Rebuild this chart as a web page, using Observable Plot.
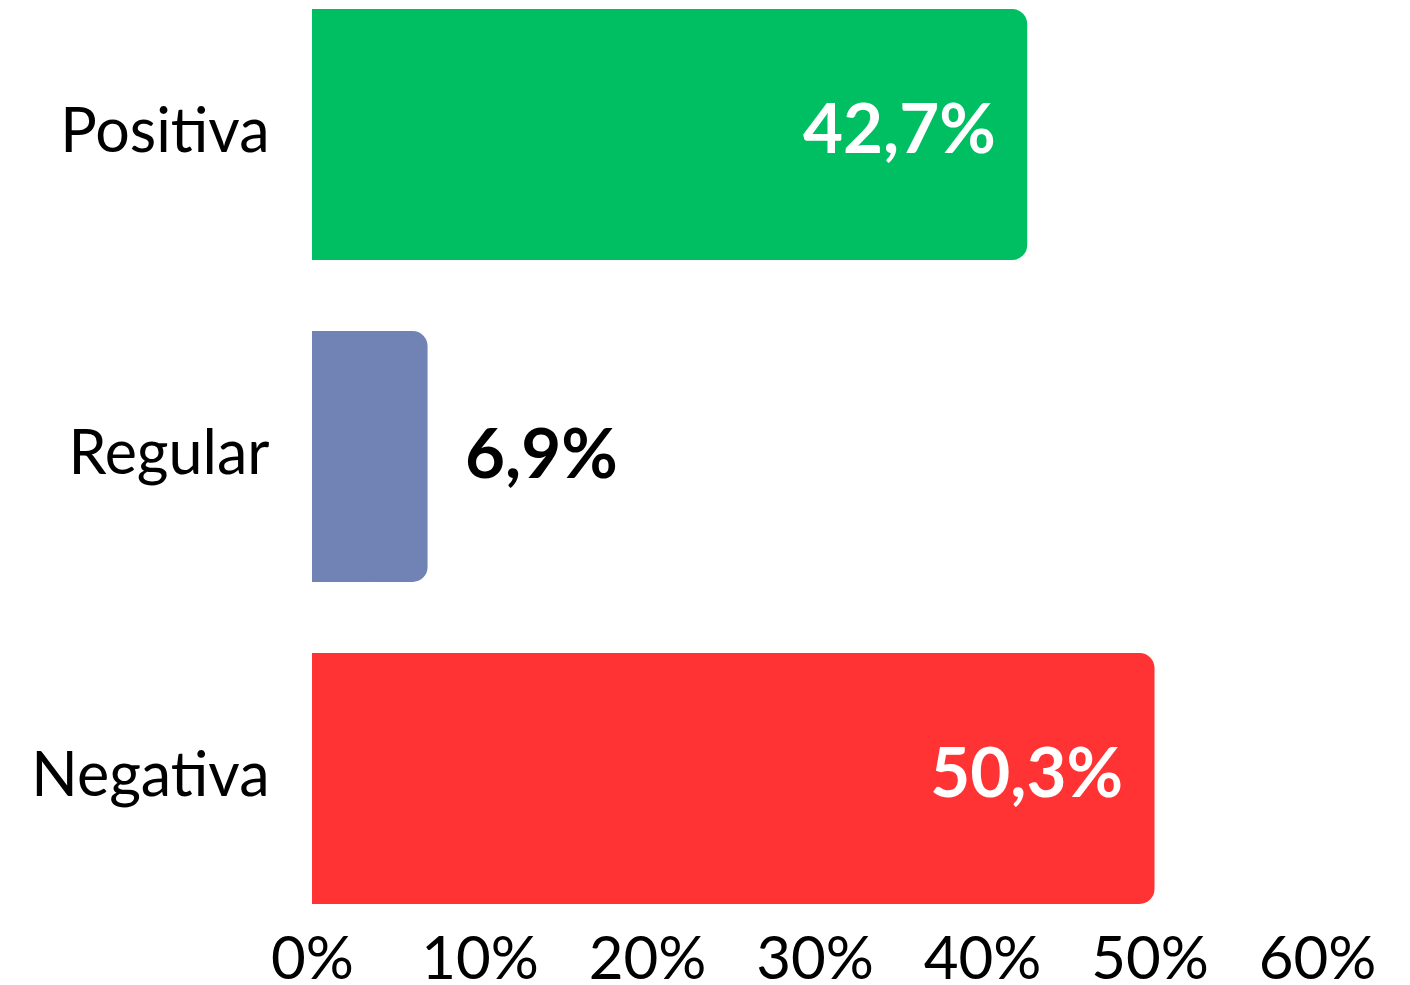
<!DOCTYPE html>
<html>
<head>
<meta charset="utf-8">
<script src="https://cdn.jsdelivr.net/npm/d3@7"></script>
<script src="https://cdn.jsdelivr.net/npm/@observablehq/plot@0.6"></script>
<style>
  html, body { margin: 0; padding: 0; background: #fff; }
  #chart svg { font-family: Lato, "Noto Sans", sans-serif; display: block; }
</style>
</head>
<body>
<div id="chart"></div>
<script>
const categories = ["Positiva", "Regular", "Negativa"];
const values = [42.7, 6.9, 50.3];
const colors = ["#00BF63", "#7183B5", "#FF3333"];
const tickValues = [0, 10, 20, 30, 40, 50, 60];

const data = categories.map((c, i) => ({ category: c, value: values[i], color: colors[i] }));
const fmt = v => v.toFixed(1).replace(".", ",") + "%";
const inside = data.filter(d => d.value >= 20);
const outside = data.filter(d => d.value < 20);

const chart = Plot.plot({
  width: 1410,
  height: 985,
  marginLeft: 312,
  marginRight: 93,
  marginTop: 8,
  marginBottom: 80,
  style: { fontFamily: "Lato, 'Noto Sans', sans-serif", background: "#fff" },
  x: { domain: [0, 60] },
  y: { domain: categories, paddingInner: 0.22, paddingOuter: 0 },
  marks: [
    Plot.barX(data, { y: "category", x1: 0, x2: "value", fill: "color", rx: 15 }),
    Plot.barX(data, { y: "category", x1: 0, x2: d => d.value / 2, fill: "color" }),
    Plot.text(inside, { y: "category", x: "value", text: d => fmt(d.value), textAnchor: "end", dx: -32, dy: -4, fill: "white", fontSize: 69, fontWeight: "bold" }),
    Plot.text(outside, { y: "category", x: "value", text: d => fmt(d.value), textAnchor: "start", dx: 37, dy: -1, fill: "black", fontSize: 69, fontWeight: "bold" }),
    Plot.axisX({ ticks: tickValues, tickFormat: d => d + "%", tickSize: 0, tickPadding: 31, fontSize: 60, fill: "black", label: null }),
    Plot.axisY({ tickSize: 0, tickPadding: 43, dy: -3, fontSize: 61, fill: "black", label: null })
  ]
});
document.getElementById("chart").appendChild(chart);
</script>
</body>
</html>
